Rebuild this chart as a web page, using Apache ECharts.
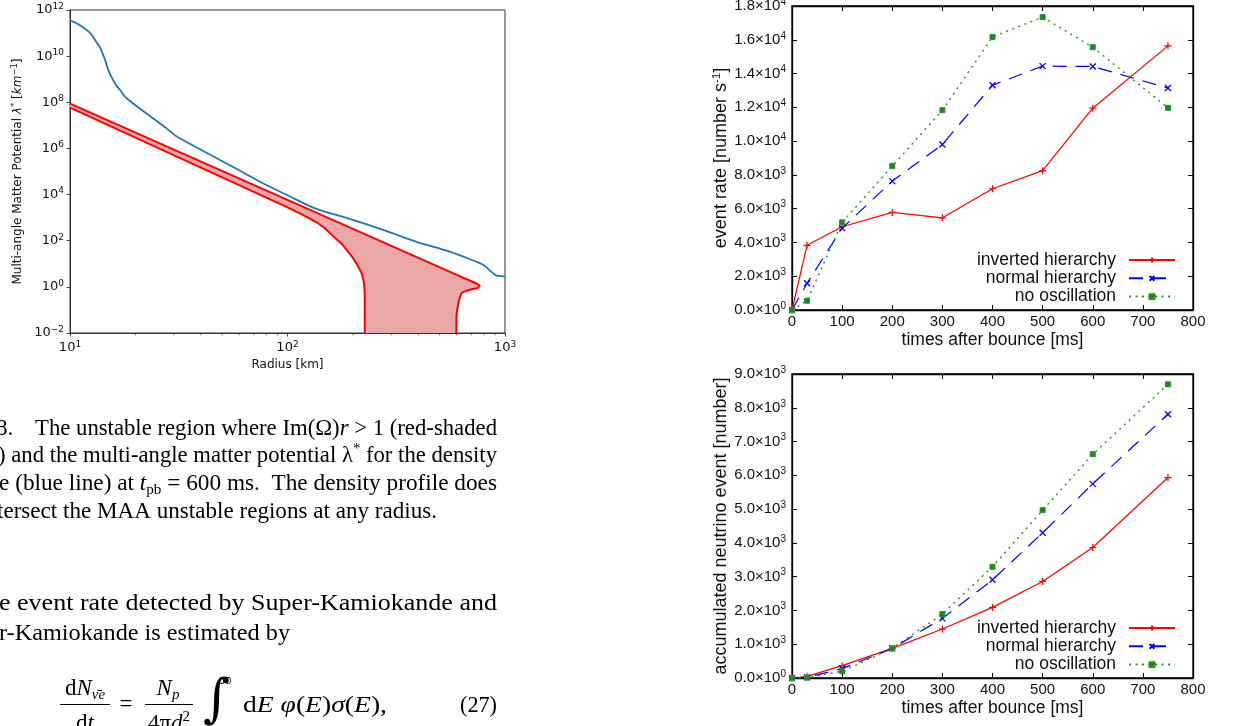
<!DOCTYPE html>
<html><head><meta charset="utf-8">
<script src="https://cdn.jsdelivr.net/npm/echarts@6/dist/echarts.min.js"></script>
<style>html,body{margin:0;padding:0;background:#fff;overflow:hidden}#c{width:1239px;height:726px}</style>
</head><body><div id="c"></div>
<script>
// ---------- DATA ----------
// Left chart: multi-angle matter potential (blue) vs radius
const blueRadius = [10, 11.1, 12.4, 13.2, 13.7, 14.5, 15.0, 16.1, 17.0, 18.2, 27.8, 31, 56, 77, 99, 133, 200, 275, 392, 557, 700, 793, 902, 960, 1000];
const blueLambda = [3.6e11, 2.2e11, 1.0e11, 4.2e10, 2.5e10, 6.9e9, 2.5e9, 6.6e8, 3.4e8, 1.5e8, 7.4e6, 3.3e6, 1.6e5, 3.1e4, 9.8e3, 2.6e3, 800, 295, 90, 34, 15, 9.1, 3.3, 2.9, 2.8];
// Unstable region boundary (upper edge + right edge)
const upperRadius = [10, 641, 700, 740, 766, 750, 688, 650, 631, 615, 602, 598, 597];
const upperLambda = [8.7e7, 2.5, 1.75, 1.4, 1.12, 0.9, 0.75, 0.62, 0.54, 0.27, 0.1, 0.05, 0.01];
// Unstable region boundary (lower edge + left edge)
const lowerRadius = [10, 100, 120, 136, 148, 162, 178, 187, 200, 207, 219, 224, 226, 226.6, 226.6];
const lowerLambda = [5.9e7, 2.8e3, 1.2e3, 630, 355, 158, 71, 40, 17.8, 10.7, 4, 1.78, 0.8, 0.32, 0.01];
const radiusMinorTicks = [20, 30, 40, 50, 60, 70, 80, 90, 200, 300, 400, 500, 600, 700, 800, 900];

// Right charts
const times = [0, 30, 100, 200, 300, 400, 500, 600, 750];
const rateInverted = [0, 3830, 4930, 5780, 5460, 7180, 8250, 11950, 15640];
const rateNormal   = [0, 1580, 4850, 7630, 9800, 13310, 14440, 14420, 13140];
const rateNoOsc    = [0, 550, 5190, 8520, 11830, 16170, 17340, 15560, 11970];
const accInverted  = [0, 50, 365, 877, 1449, 2090, 2859, 3864, 5934];
const accNormal    = [0, 20, 276, 877, 1765, 2908, 4298, 5747, 7808];
const accNoOsc     = [0, 10, 197, 877, 1893, 3293, 4969, 6625, 8695];
const seriesNames  = ['inverted hierarchy', 'normal hierarchy', 'no oscillation'];

// ---------- HELPERS ----------
const SANS = "'Liberation Sans', Arial, sans-serif";
const DV = "'DejaVu Sans', sans-serif";
const SERIF = "'Liberation Serif', 'Times New Roman', serif";
const zip = (a, b) => a.map((v, i) => [v, b[i]]);

function pow10Label(v) {
  const e = Math.round(Math.log10(v));
  return '{b|10}{s|' + (e < 0 ? '−' + (-e) : e) + '}';
}
const powRich = {
  b: {fontFamily: DV, fontSize: 13, color: '#111', lineHeight: 16},
  s: {fontFamily: DV, fontSize: 9, color: '#111', lineHeight: 10, verticalAlign: 'top'}
};

function sci(v) {
  if (v === 0) return '{b|0.0×10}{s|0}';
  const e = Math.floor(Math.log10(v) + 1e-9);
  const m = v / Math.pow(10, e);
  return '{b|' + m.toFixed(1) + '×10}{s|' + e + '}';
}
const sciRich = {
  b: {fontFamily: SANS, fontSize: 15, color: '#111', lineHeight: 18},
  s: {fontFamily: SANS, fontSize: 10, color: '#111', lineHeight: 10, verticalAlign: 'top'}
};

const AX = '#000';
function rightXAxes(gi) {
  return [
    {gridIndex: gi, type: 'value', min: 0, max: 800, interval: 100, position: 'bottom',
      axisLine: {show: true, onZero: false, lineStyle: {color: AX, width: 1.3}},
      axisTick: {show: true, inside: true, length: 5, lineStyle: {color: AX, width: 1}},
      axisLabel: {show: true, margin: 4, fontFamily: SANS, fontSize: 15, color: '#111', showMinLabel: true, showMaxLabel: true},
      splitLine: {show: false},
      name: 'times after bounce [ms]', nameLocation: 'middle', nameGap: 21,
      nameTextStyle: {fontFamily: SANS, fontSize: 17.5, color: '#111'}},
    {gridIndex: gi, type: 'value', min: 0, max: 800, interval: 100, position: 'top',
      axisLine: {show: true, onZero: false, lineStyle: {color: AX, width: 1.3}},
      axisTick: {show: true, inside: true, length: 5, lineStyle: {color: AX, width: 1}},
      axisLabel: {show: false}, splitLine: {show: false}}
  ];
}
function rightYAxes(gi, max, interval, nameRich, nameGap) {
  return [
    {gridIndex: gi, type: 'value', min: 0, max: max, interval: interval, position: 'left',
      axisLine: {show: true, onZero: false, lineStyle: {color: AX, width: 1.3}},
      axisTick: {show: true, inside: true, length: 5, lineStyle: {color: AX, width: 1}},
      axisLabel: {show: true, margin: 6, formatter: sci, rich: sciRich, showMinLabel: true, showMaxLabel: true},
      splitLine: {show: false},
      name: nameRich, nameLocation: 'middle', nameGap: nameGap, nameRotate: 90,
      nameTextStyle: {rich: {
        a: {fontFamily: SANS, fontSize: 18, color: '#111', lineHeight: 20},
        s: {fontFamily: SANS, fontSize: 11.5, color: '#111', lineHeight: 11, verticalAlign: 'top'}
      }}},
    {gridIndex: gi, type: 'value', min: 0, max: max, interval: interval, position: 'right',
      axisLine: {show: true, onZero: false, lineStyle: {color: AX, width: 1.3}},
      axisTick: {show: true, inside: true, length: 5, lineStyle: {color: AX, width: 1}},
      axisLabel: {show: false}, splitLine: {show: false}}
  ];
}

const PLUS = 'path://M5,0L5,10M0,5L10,5';
const CROSS = 'path://M0,0L10,10M10,0L0,10';
const RED = '#ff0000', BLUE = '#0000ff', GREEN = '#1e9a1e';
function rightSeries(xi, yi, a, b, c) {
  const common = {type: 'line', xAxisIndex: xi, yAxisIndex: yi, clip: false, showSymbol: true, smooth: false};
  return [
    Object.assign({}, common, {name: seriesNames[0], data: zip(times, a), symbol: PLUS, symbolSize: 7,
      lineStyle: {color: RED, width: 1.2, type: 'solid'},
      itemStyle: {color: RED, borderColor: RED, borderWidth: 1.2}}),
    Object.assign({}, common, {name: seriesNames[1], data: zip(times, b), symbol: CROSS, symbolSize: 6,
      lineStyle: {color: BLUE, width: 1.2, type: [14, 9]},
      itemStyle: {color: BLUE, borderColor: BLUE, borderWidth: 1.3}}),
    Object.assign({}, common, {name: seriesNames[2], data: zip(times, c), symbol: 'rect', symbolSize: 5,
      lineStyle: {color: GREEN, width: 1.4, type: [2, 4.5]},
      itemStyle: {color: '#2a7f2a', borderColor: GREEN, borderWidth: 1}})
  ];
}
function legendAt(top) {
  return {
    data: seriesNames, orient: 'vertical', align: 'right', right: 58, top: top,
    itemWidth: 46, itemHeight: 6, itemGap: 0.3, padding: 5,
    selectedMode: false,
    textStyle: {fontFamily: SANS, fontSize: 17.5, color: '#111', lineHeight: 18, padding: [0, 8, 0, 0]}
  };
}

// ---------- CHART ----------
const chart = echarts.init(document.getElementById('c'), null, {renderer: 'canvas'});

const fillPolygon = {
  type: 'custom', xAxisIndex: 0, yAxisIndex: 0, clip: true, silent: true, z: 1,
  data: [[100, 1]],
  renderItem: function (params, api) {
    const pts = zip(upperRadius, upperLambda).concat(zip(lowerRadius, lowerLambda).reverse())
      .map(p => api.coord(p));
    return {type: 'polygon', shape: {points: pts}, style: {fill: '#e9a7a7', stroke: null}};
  }
};
const minorTicks = {
  type: 'custom', xAxisIndex: 0, yAxisIndex: 0, clip: false, silent: true, z: 5,
  data: radiusMinorTicks.map(v => [v, 0.01]),
  renderItem: function (params, api) {
    const p = api.coord([api.value(0), api.value(1)]);
    return {type: 'line', shape: {x1: p[0], y1: p[1], x2: p[0], y2: p[1] + 2.2}, style: {stroke: '#333', lineWidth: 0.8}};
  }
};

const option = {
  animation: false,
  backgroundColor: '#fff',
  grid: [
    {left: 70, top: 10, width: 435, height: 323, show: true, borderColor: '#333', borderWidth: 1, backgroundColor: 'transparent', containLabel: false, outerBoundsMode: 'none'},
    {left: 792, top: 6, width: 401, height: 304, show: true, borderColor: '#000', borderWidth: 1.3, backgroundColor: 'transparent', containLabel: false, outerBoundsMode: 'none'},
    {left: 792, top: 374, width: 401, height: 304, show: true, borderColor: '#000', borderWidth: 1.3, backgroundColor: 'transparent', containLabel: false, outerBoundsMode: 'none'}
  ],
  xAxis: [
    {gridIndex: 0, type: 'log', logBase: 10, min: 10, max: 1000, interval: 1, position: 'bottom',
      axisLine: {show: true, onZero: false, lineStyle: {color: '#333', width: 1}},
      axisTick: {show: true, inside: false, length: 3.5, lineStyle: {color: '#333', width: 0.9}},
      axisLabel: {show: true, margin: 7, formatter: pow10Label, rich: powRich, showMinLabel: true, showMaxLabel: true},
      splitLine: {show: false}, minorTick: {show: false},
      name: 'Radius [km]', nameLocation: 'middle', nameGap: 26,
      nameTextStyle: {fontFamily: DV, fontSize: 12, color: '#111'}}
  ].concat(rightXAxes(1), rightXAxes(2)),
  yAxis: [
    {gridIndex: 0, type: 'log', logBase: 10, min: 0.01, max: 1e12, interval: 2, position: 'left',
      axisLine: {show: true, onZero: false, lineStyle: {color: '#333', width: 1}},
      axisTick: {show: true, inside: false, length: 3.5, lineStyle: {color: '#333', width: 0.9}},
      axisLabel: {show: true, margin: 6, formatter: pow10Label, rich: powRich, showMinLabel: true, showMaxLabel: true},
      splitLine: {show: false},
      name: '{a|Multi-angle Matter Potential }{i|λ}{s|*}{a| [}{i|km}{s|−1}{a|]}',
      nameLocation: 'middle', nameGap: 45, nameRotate: 90,
      nameTextStyle: {rich: {
        a: {fontFamily: DV, fontSize: 12, color: '#111', lineHeight: 15},
        i: {fontFamily: DV, fontSize: 12, fontStyle: 'italic', color: '#111', lineHeight: 15},
        s: {fontFamily: DV, fontSize: 8.5, color: '#111', lineHeight: 9, verticalAlign: 'top'}
      }}}
  ].concat(
    rightYAxes(1, 18000, 2000, '{a|event rate [number s}{s|-1}{a|]}', 44),
    rightYAxes(2, 9000, 1000, '{a|accumulated neutrino event [number]}', 47)
  ),
  legend: [legendAt(246), legendAt(614)],
  series: [
    fillPolygon,
    {type: 'line', name: 'unstable upper', xAxisIndex: 0, yAxisIndex: 0, data: zip(upperRadius, upperLambda),
      showSymbol: false, symbol: 'none', z: 3, lineStyle: {color: RED, width: 2}},
    {type: 'line', name: 'unstable lower', xAxisIndex: 0, yAxisIndex: 0, data: zip(lowerRadius, lowerLambda),
      showSymbol: false, symbol: 'none', z: 3, lineStyle: {color: RED, width: 2}},
    {type: 'line', name: 'lambda', xAxisIndex: 0, yAxisIndex: 0, data: zip(blueRadius, blueLambda),
      showSymbol: false, symbol: 'none', z: 4, smooth: 0.3, lineStyle: {color: '#1f77b4', width: 1.8}},
    minorTicks
  ].concat(rightSeries(1, 1, rateInverted, rateNormal, rateNoOsc),
           rightSeries(3, 3, accInverted, accNormal, accNoOsc))
};

// ---------- PAGE TEXT (graphic) ----------
const FS = 23, SFS = 15;
const mctx = document.createElement('canvas').getContext('2d');
function segWidth(segs) {
  let w = 0;
  for (const [t, s] of segs) {
    const size = (s === 'sub' || s === 'sup' || s === 'subi') ? SFS : FS;
    const ital = (s === 'i' || s === 'subi') ? 'italic ' : '';
    mctx.font = ital + size + "px 'Liberation Serif'";
    w += mctx.measureText(t).width;
  }
  return w;
}
const textRich = {
  n: {fontFamily: SERIF, fontSize: FS, color: '#000', lineHeight: 28},
  i: {fontFamily: SERIF, fontSize: FS, fontStyle: 'italic', color: '#000', lineHeight: 28},
  sub: {fontFamily: SERIF, fontSize: SFS, color: '#000', lineHeight: 18, verticalAlign: 'bottom'},
  subi: {fontFamily: SERIF, fontSize: SFS, fontStyle: 'italic', color: '#000', lineHeight: 18, verticalAlign: 'bottom'},
  sup: {fontFamily: SERIF, fontSize: SFS, color: '#000', lineHeight: 16, verticalAlign: 'top'}
};
const richStr = segs => segs.map(([t, s]) => '{' + s + '|' + t + '}').join('');
const textLines = [
  {segs: [['8.', 'n']], x0: -4, baseline: 436},
  {segs: [['The unstable region where Im(Ω)', 'n'], ['r', 'i'], [' > 1 (red-shaded', 'n']], x0: 35, x1: 497, baseline: 436},
  {segs: [[') and the multi-angle matter potential λ', 'n'], ['*', 'sup'], [' for the density', 'n']], x0: -2, x1: 497, baseline: 463.5},
  {segs: [['e (blue line) at ', 'n'], ['t', 'i'], ['pb', 'sub'], [' = 600 ms.  The density profile does', 'n']], x0: -1, x1: 497, baseline: 491.5},
  {segs: [['tersect the MAA unstable regions at any radius.', 'n']], x0: -3, x1: 437, baseline: 519},
  {segs: [['e event rate detected by Super-Kamiokande and', 'n']], x0: -1, x1: 497, baseline: 611.5},
  {segs: [['r-Kamiokande is estimated by', 'n']], x0: -1, x1: 290, baseline: 641.5},
  // equation (27)
  {segs: [['d', 'n'], ['N', 'i'], ['ν̄e', 'subi']], cx: 85, baseline: 696},
  {segs: [['d', 'n'], ['t', 'i']], cx: 85, baseline: 731},
  {segs: [['=', 'n']], cx: 126, baseline: 712},
  {segs: [['N', 'i'], ['p', 'subi']], cx: 168, baseline: 696},
  {segs: [['4π', 'n'], ['d', 'i'], ['2', 'sup']], cx: 169, baseline: 731},
  {segs: [['d', 'n'], ['E', 'i'], [' ', 'n'], ['φ', 'i'], ['(', 'n'], ['E', 'i'], [')', 'n'], ['σ', 'i'], ['(', 'n'], ['E', 'i'], ['),', 'n']], x0: 243, x1: 387, baseline: 713},
  {segs: [['(27)', 'n']], x0: 460, x1: 497, baseline: 713}
];
const graphics = [];
for (const L of textLines) {
  const w = segWidth(L.segs);
  let x = L.x0, sx = 1;
  if (L.cx !== undefined) x = L.cx - w / 2;
  else if (L.x1 !== undefined) sx = (L.x1 - L.x0) / w;
  graphics.push({type: 'text', x: x, y: L.baseline - 7.5, scaleX: sx, originX: 0, originY: 0, silent: true,
    style: {text: richStr(L.segs), rich: textRich, align: 'left', verticalAlign: 'middle'}});
}
// fraction bars
graphics.push({type: 'line', silent: true, shape: {x1: 60, y1: 704.5, x2: 110, y2: 704.5}, style: {stroke: '#000', lineWidth: 1.2}});
graphics.push({type: 'line', silent: true, shape: {x1: 145, y1: 704.5, x2: 193, y2: 704.5}, style: {stroke: '#000', lineWidth: 1.2}});
// integral sign and limits
graphics.push({type: 'text', x: 203, y: 676, silent: true, style: {text: '∫', fontFamily: "'DejaVu Serif', serif", fontSize: 52, fill: '#000', align: 'left', verticalAlign: 'top'}});
graphics.push({type: 'text', x: 218, y: 681, silent: true, style: {text: '∞', fontFamily: SERIF, fontSize: 19, fill: '#000', align: 'left', verticalAlign: 'middle'}});
option.graphic = graphics;

chart.setOption(option);
</script>
</body></html>
